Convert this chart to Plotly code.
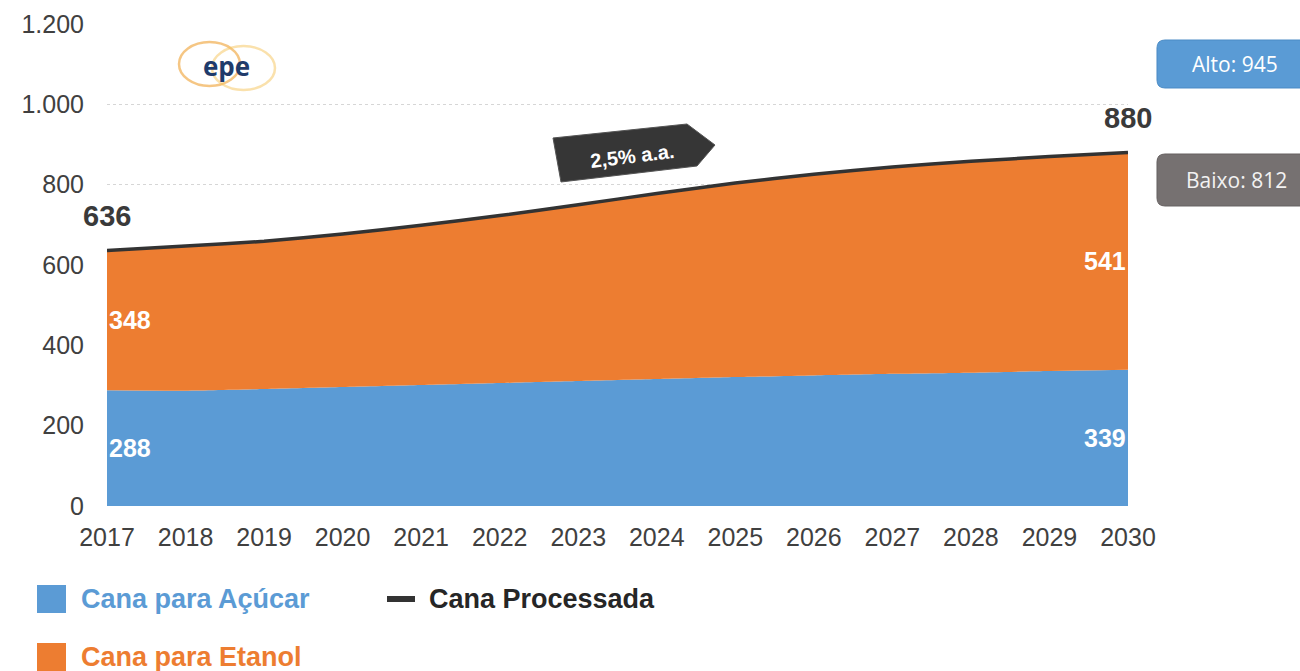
import plotly.graph_objects as go

# Cana-de-açúcar processada (milhões de toneladas)
anos = list(range(2017, 2031))
cana_acucar = [288, 287, 291, 296, 301, 306, 311, 316, 321, 325, 329, 332, 336, 339]
cana_etanol = [348, 360, 368, 381, 398, 417, 439, 462, 483, 501, 515, 526, 534, 541]
cana_processada = [636, 647, 659, 677, 699, 723, 750, 778, 804, 826, 844, 858, 870, 880]

y_ticks = [0, 200, 400, 600, 800, 1000, 1200]
crescimento = "2,5% a.a."
cenario_alto = 945
cenario_baixo = 812

AZUL = "#5b9bd5"
LARANJA = "#ed7d31"
ESCURO = "#333333"
FONTE = "Liberation Sans, Arial, sans-serif"

W, H = 1300, 671
L, R, T, B = 107, 172, 24, 165
PW, PH = W - L - R, H - T - B


def px(x):
    return (x - L) / PW


def py(y):
    return (H - B - y) / PH


def path_px(points, close=True):
    s = "M" + " L".join(f"{px(x):.5f},{py(y):.5f}" for x, y in points)
    return s + (" Z" if close else "")


def rounded_rect(x0, y0, x1, y1, r):
    pts = [
        f"M{px(x0 + r):.5f},{py(y0):.5f}",
        f"L{px(x1 - r):.5f},{py(y0):.5f}",
        f"Q{px(x1):.5f},{py(y0):.5f} {px(x1):.5f},{py(y0 + r):.5f}",
        f"L{px(x1):.5f},{py(y1 - r):.5f}",
        f"Q{px(x1):.5f},{py(y1):.5f} {px(x1 - r):.5f},{py(y1):.5f}",
        f"L{px(x0 + r):.5f},{py(y1):.5f}",
        f"Q{px(x0):.5f},{py(y1):.5f} {px(x0):.5f},{py(y1 - r):.5f}",
        f"L{px(x0):.5f},{py(y0 + r):.5f}",
        f"Q{px(x0):.5f},{py(y0):.5f} {px(x0 + r):.5f},{py(y0):.5f}",
        "Z",
    ]
    return " ".join(pts)


def nota(x, y, texto, fonte, xanchor="center", **kw):
    return dict(x=px(x), y=py(y), xref="paper", yref="paper", text=texto,
                showarrow=False, xanchor=xanchor, yanchor="middle", font=fonte, **kw)


fig = go.Figure()

fig.add_trace(go.Scatter(
    x=anos, y=cana_acucar, name="Cana para Açúcar", stackgroup="cana",
    mode="lines", line=dict(width=0, color=AZUL, shape="spline", smoothing=0.6),
    fillcolor=AZUL,
))
fig.add_trace(go.Scatter(
    x=anos, y=cana_etanol, name="Cana para Etanol", stackgroup="cana",
    mode="lines", line=dict(width=0, color=LARANJA, shape="spline", smoothing=0.6),
    fillcolor=LARANJA,
))
fig.add_trace(go.Scatter(
    x=anos, y=cana_processada, name="Cana Processada",
    mode="lines", line=dict(width=3.5, color=ESCURO, shape="spline", smoothing=0.6),
))

ann = []

# Totais no início e no fim
for i in (0, -1):
    ann.append(dict(
        x=anos[i], y=cana_processada[i], xref="x", yref="y",
        text=f"<b>{cana_processada[i]}</b>", showarrow=False, yshift=35,
        xanchor="center", yanchor="middle",
        font=dict(family=FONTE, size=29, color="#3a3a3a"),
    ))

# Rótulos internos das áreas
for i, anchor in ((0, "left"), (-1, "right")):
    ann.append(dict(
        x=anos[i], y=cana_acucar[i] + cana_etanol[i] / 2, xref="x", yref="y",
        text=f"<b>{cana_etanol[i]}</b>", showarrow=False, xanchor=anchor,
        yanchor="middle", font=dict(family=FONTE, size=25, color="white"),
    ))
    ann.append(dict(
        x=anos[i], y=cana_acucar[i] / 2, xref="x", yref="y",
        text=f"<b>{cana_acucar[i]}</b>", showarrow=False, xanchor=anchor,
        yanchor="middle", font=dict(family=FONTE, size=25, color="white"),
    ))

shapes = []

# Seta da taxa de crescimento
shapes.append(dict(
    type="path", xref="paper", yref="paper",
    path=path_px([(553, 138), (687, 124), (715, 145), (697, 166), (561, 182)]),
    fillcolor="#363636", line=dict(color="#555555", width=1), layer="above",
))
ann.append(nota(632, 156, f"<b>{crescimento}</b>",
                dict(family=FONTE, size=20, color="white"), textangle=-7))

# Cenários alto e baixo
shapes.append(dict(
    type="path", xref="paper", yref="paper",
    path=rounded_rect(1157, 40, 1312, 88, 8),
    fillcolor="#5a9bd5", line=dict(color="#4a8bc5", width=1), layer="above",
))
ann.append(nota(1235, 64, f"Alto: {cenario_alto}",
                dict(family="Open Sans, sans-serif", size=21, color="white")))
shapes.append(dict(
    type="path", xref="paper", yref="paper",
    path=rounded_rect(1157, 154, 1312, 206, 8),
    fillcolor="#767171", line=dict(color="#666161", width=1), layer="above",
))
ann.append(nota(1236, 180, f"Baixo: {cenario_baixo}",
                dict(family="Open Sans, sans-serif", size=21, color="#f2f2f2")))

# Logotipo epe
shapes.append(dict(
    type="circle", xref="paper", yref="paper",
    x0=px(179), x1=px(240), y0=py(86), y1=py(42),
    line=dict(color="rgba(238,160,50,0.6)", width=2.5), layer="above",
))
shapes.append(dict(
    type="circle", xref="paper", yref="paper",
    x0=px(212), x1=px(275), y0=py(90), y1=py(46),
    line=dict(color="rgba(245,195,90,0.5)", width=2.5), layer="above",
))
ann.append(nota(226, 66, "<b>epe</b>",
                dict(family="Open Sans, sans-serif", size=26, color="#1f3b6b")))

# Legenda
legenda = [
    ("sq", AZUL, "Cana para Açúcar", 37, 599),
    ("ln", ESCURO, "Cana Processada", 387, 599),
    ("sq", LARANJA, "Cana para Etanol", 37, 657),
]
for kind, cor, texto, x0, yc in legenda:
    if kind == "sq":
        shapes.append(dict(
            type="rect", xref="paper", yref="paper",
            x0=px(x0), x1=px(x0 + 29), y0=py(yc + 14), y1=py(yc - 14),
            fillcolor=cor, line=dict(width=0),
        ))
        tx = x0 + 42
        tcor = cor
    else:
        shapes.append(dict(
            type="rect", xref="paper", yref="paper",
            x0=px(x0), x1=px(x0 + 28), y0=py(yc + 3), y1=py(yc - 3),
            fillcolor=cor, line=dict(width=0),
        ))
        tx = x0 + 40
        tcor = "#262626"
    ann.append(nota(tx, yc, f"<b>{texto}</b>",
                    dict(family=FONTE, size=27, color=tcor), xanchor="left"))

fig.update_layout(
    width=W, height=H,
    margin=dict(l=L, r=R, t=T, b=B, autoexpand=False),
    paper_bgcolor="white", plot_bgcolor="white",
    showlegend=False,
    separators=",.",
    annotations=ann, shapes=shapes,
    font=dict(family=FONTE, color="#595959"),
)
fig.update_xaxes(
    range=[anos[0], anos[-1]], tickvals=anos, tickformat="d",
    showgrid=False, zeroline=False, showline=False, ticks="",
    tickfont=dict(family=FONTE, size=25, color="#404040"),
    ticklabelstandoff=14,
)
fig.update_yaxes(
    range=[0, 1200], tickvals=y_ticks, tickformat=",d",
    showgrid=True, gridcolor="#d6d6d6", griddash="dot", gridwidth=1,
    zeroline=False, showline=False, ticks="",
    tickfont=dict(family=FONTE, size=25, color="#404040"),
    ticklabelstandoff=22,
)

fig.write_html("out.html")
